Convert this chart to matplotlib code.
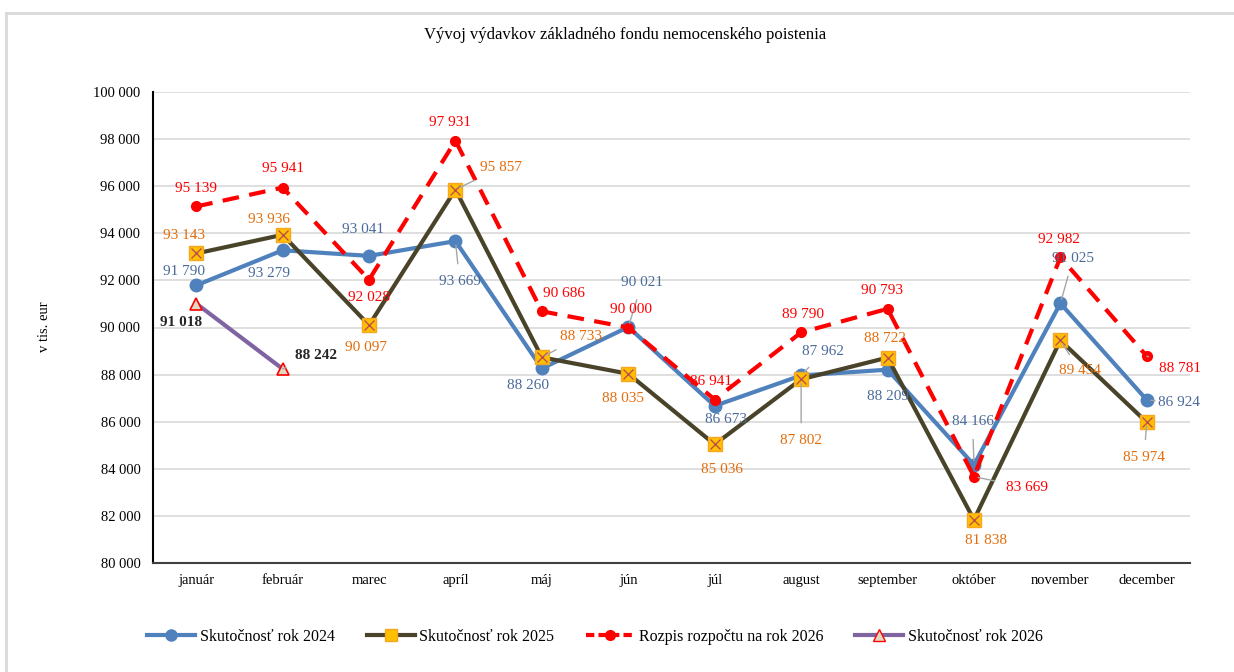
import matplotlib
matplotlib.use("Agg")
import matplotlib.pyplot as plt
from matplotlib.lines import Line2D

plt.rcParams['font.family'] = ['Liberation Serif', 'DejaVu Serif']

months = ["január", "február", "marec", "apríl", "máj", "jún", "júl", "august",
          "september", "október", "november", "december"]
actual_2024 = [91790, 93279, 93041, 93669, 88260, 90021, 86673, 87962, 88209, 84166, 91025, 86924]
actual_2025 = [93143, 93936, 90097, 95857, 88733, 88035, 85036, 87802, 88722, 81838, 89454, 85974]
budget_2026 = [95139, 95941, 92028, 97931, 90686, 90000, 86941, 89790, 90793, 83669, 92982, 88781]
actual_2026 = [91018, 88242]
y_ticks = [80000, 82000, 84000, 86000, 88000, 90000, 92000, 94000, 96000, 98000, 100000]

series_names = ["Skutočnosť rok 2024", "Skutočnosť rok 2025",
                "Rozpis rozpočtu na rok 2026", "Skutočnosť rok 2026"]

# label offsets in points (dx, dy)
off_2024 = [(-9, 10), (-10, -17), (-4, 19), (3, -29), (-10, -12), (10, 32),
            (8, -10), (16, 17), (0, -19), (-1, 31), (9, 32), (23, -2)]
off_2025 = [(-9, 13), (-10, 11), (-2, -16), (33, 16), (28, 15), (-4, -18),
            (5, -18), (0, -44), (-2, 14), (9, -15), (14, -22), (-2, -25)]
off_bud = [(0, 13), (0, 14), (0, -13), (-4, 13), (16, 13), (2, 13),
           (-3, 13), (1, 13), (-4, 13), (38, -8), (-1, 13), (24, -9)]
off_26 = [(-11, -14), (24, 10)]

def fmt(v):
    return f"{v:,}".replace(",", " ")

W, H = 1234, 672
fig = plt.figure(figsize=(W / 100, H / 100), dpi=100)
ax = fig.add_axes([153 / W, 1 - 563 / H, (1190 - 153) / W, (563 - 92) / H])

# outer frame (top and left)
fig.add_artist(Line2D([6 / W, 1], [1 - 13 / H, 1 - 13 / H], color="#D9D9D9", lw=2, transform=fig.transFigure))
fig.add_artist(Line2D([6 / W, 6 / W], [0, 1 - 13 / H], color="#D9D9D9", lw=2, transform=fig.transFigure))

x = list(range(len(months)))
c24, c25, cb, c26 = "#4F81BD", "#494429", "#FF0000", "#8064A2"
lab24, lab25, labb, lab26 = "#4A6A9A", "#E46C0A", "#FF0000", "#262626"

ax.plot(x, actual_2024, color=c24, lw=3, marker="o", ms=9, mfc=c24, mec=c24, label=series_names[0], zorder=3)
ax.plot(x, actual_2025, color=c25, lw=3, label=series_names[1], zorder=3)
ax.plot(x, actual_2025, ls="none", marker="s", ms=10, mfc="#FFC000", mec="#F5A623", zorder=4)
ax.plot(x, actual_2025, ls="none", marker="x", ms=7, mec="#C0504D", mew=1, zorder=5)
ax.plot(x, budget_2026, color=cb, lw=3, ls=(0, (4, 2.5)), marker="o", ms=7, mfc=cb, mec=cb,
        label=series_names[2], zorder=3)
ax.plot(x[:len(actual_2026)], actual_2026, color=c26, lw=3, marker="^", ms=9, mfc="#DDD9C3", mec="#FF0000",
        mew=1.2, label=series_names[3], zorder=6)

def labels(vals, offs, color, weight="normal"):
    for i, (v, (dx, dy)) in enumerate(zip(vals, offs)):
        far = (dx * dx + dy * dy) ** 0.5 > 22
        ap = dict(arrowstyle="-", color="#A6A6A6", lw=1, shrinkA=6, shrinkB=3) if far else None
        ax.annotate(fmt(v), (i, v), xytext=(dx, dy), textcoords="offset points",
                    ha="center", va="center", fontsize=11, color=color, fontweight=weight,
                    arrowprops=ap, zorder=7)

labels(actual_2024, off_2024, lab24)
labels(actual_2025, off_2025, lab25)
labels(budget_2026, off_bud, labb)
labels(actual_2026, off_26, lab26, "bold")

ax.set_xlim(-0.5, len(months) - 0.5)
ax.set_ylim(80000, 100000)
ax.set_yticks(y_ticks)
ax.set_yticklabels([fmt(t) for t in y_ticks], fontsize=10.5)
ax.set_xticks(x)
ax.set_xticklabels(months, fontsize=10.5)
ax.tick_params(axis="both", length=0, pad=8)
ax.tick_params(axis="y", pad=9)
ax.grid(axis="y", color="#D9D9D9", lw=1.2)
ax.set_axisbelow(True)
for s in ["top", "right"]:
    ax.spines[s].set_visible(False)
ax.spines["left"].set_color("black")
ax.spines["left"].set_linewidth(1.5)
ax.spines["bottom"].set_color("#404040")
ax.spines["bottom"].set_linewidth(1.5)

fig.text(45 / W, 1 - 327 / H, "v tis. eur", rotation=90, ha="center", va="center", fontsize=10.5)
fig.text(625 / W, 1 - 35 / H, "Vývoj výdavkov základného fondu nemocenského poistenia",
         ha="center", va="center", fontsize=12)

handles = [
    Line2D([], [], color=c24, lw=3, marker="o", ms=8, mfc=c24, mec=c24),
    Line2D([], [], color=c25, lw=3, marker="s", ms=8, mfc="#FFC000", mec="#F5A623"),
    Line2D([], [], color=cb, lw=3, ls=(0, (2, 1)), marker="o", ms=7, mfc=cb, mec=cb),
    Line2D([], [], color=c26, lw=3, marker="^", ms=8, mfc="#DDD9C3", mec="#FF0000"),
]
fig.legend(handles, series_names, loc="center", bbox_to_anchor=(595 / W, 1 - 637 / H), ncol=4,
           frameon=False, fontsize=11.5, handlelength=3.0, columnspacing=2.0, handletextpad=0.3)

fig.savefig("out.png", dpi=100)
